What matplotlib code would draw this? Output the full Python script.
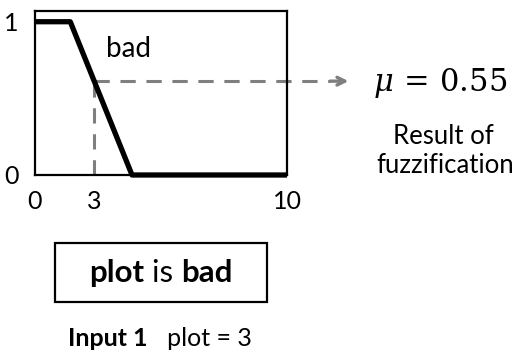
import numpy as np
import matplotlib
matplotlib.use('Agg')
import matplotlib.pyplot as plt
from matplotlib.patches import Rectangle

plt.rcParams['font.family'] = ['Lato', 'DejaVu Sans']
plt.rcParams['mathtext.fontset'] = 'dejavuserif'

# membership function "bad" (schematic)
mf_x = [0, 1.4, 3.85, 10]
mf_y = [1, 1, 0, 0]
x_in = 2.35          # where the input "3" sits on the drawn axis
tick_pos = [0, 2.35, 10]
tick_labels = ['0', '3', '10']
mu_label = r'$\mu\,=\,0.55$'

mu = np.interp(x_in, mf_x, mf_y)

fig = plt.figure(figsize=(5.2, 3.56), dpi=100)
ax = fig.add_axes([35 / 520, 181 / 356, 252 / 520, 164 / 356])

ax.plot(mf_x, mf_y, color='black', lw=3.8, clip_on=False, solid_capstyle='butt', zorder=3)
ax.set_xlim(0, 10)
ax.set_ylim(0, 1.07)
for s in ax.spines.values():
    s.set_linewidth(1.6)

ax.set_xticks(tick_pos, tick_labels)
ax.set_yticks([0, 1], ['0', '1'])
ax.tick_params(length=0, labelsize=18)
ax.tick_params(axis='x', pad=11)
ax.tick_params(axis='y', pad=12)

ax.text(3.7, 0.82, 'bad', fontsize=20, ha='center', va='center')

# dashed guide lines
dash = dict(color='#7f7f7f', lw=2.2, dashes=(5, 3.5), clip_on=False, zorder=2)
ax.plot([x_in, x_in], [0, mu], **dash)
ax.plot([x_in, 11.7], [mu, mu], **dash)
ax.annotate('', xy=(12.55, mu), xytext=(11.6, mu), xycoords='data',
            arrowprops=dict(arrowstyle='->', color='#7f7f7f', lw=2.4,
                            mutation_scale=14), annotation_clip=False)

fig.text(440 / 520, 1 - 83 / 356, mu_label, fontsize=22, ha='center', va='center')
fig.text(443 / 520, 1 - 136 / 356, 'Result of', fontsize=18.5, ha='center', va='center')
fig.text(445 / 520, 1 - 166 / 356, 'fuzzification', fontsize=18.5, ha='center', va='center')

# rule box
fig.patches.append(Rectangle((55 / 520, 1 - 302 / 356), 212 / 520, 59 / 356,
                             transform=fig.transFigure, fill=False, lw=1.6, ec='black'))


def put_runs(runs, cx, cy, size):
    # place text pieces one after another, centred as a whole on (cx, cy)
    r = fig.canvas.get_renderer()
    texts = []
    for s, w in runs:
        texts.append(fig.text(0, cy, s, fontsize=size, fontweight=w, va='center'))
    widths = [t.get_window_extent(r).width / fig.bbox.width for t in texts]
    x = cx - sum(widths) / 2
    for t, w in zip(texts, widths):
        t.set_x(x)
        x += w


put_runs([('plot', 'bold'), (' is ', 'normal'), ('bad', 'bold')], 161 / 520, 1 - 273 / 356, 22.5)
put_runs([('Input 1', 'bold'), ('   plot = 3', 'normal')], 160 / 520, 1 - 338 / 356, 18)

fig.savefig('out.png', dpi=100)
